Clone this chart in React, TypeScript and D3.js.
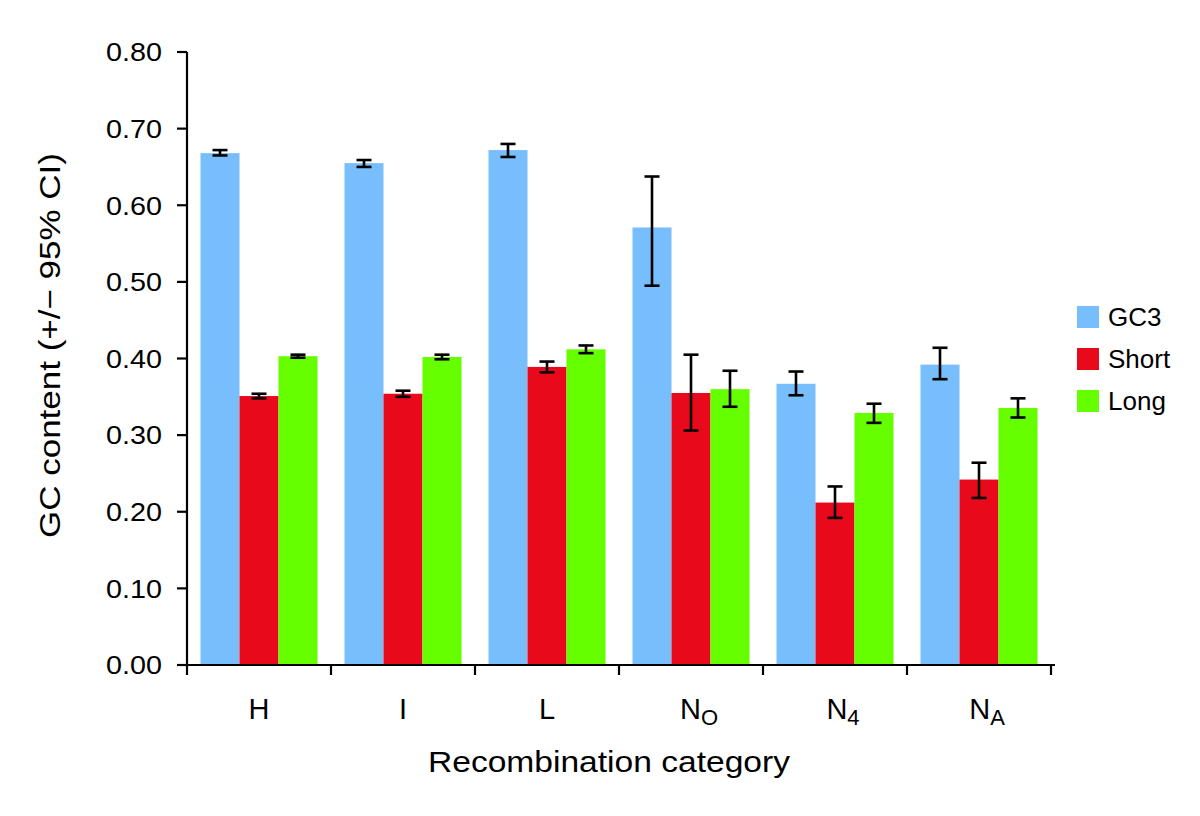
import React from "react";
import * as d3 from "d3";

const categories = ["H", "I", "L", "NO", "N4", "NA"];
const categoryMain = ["H", "I", "L", "N", "N", "N"];
const categorySub = ["", "", "", "O", "4", "A"];
const seriesNames = ["GC3", "Short", "Long"];
const seriesColors = ["#78BEFC", "#E8091B", "#66FF00"];
const gc3Values = [0.668, 0.655, 0.672, 0.571, 0.367, 0.392];
const gc3Upper = [0.672, 0.659, 0.680, 0.6375, 0.383, 0.414];
const gc3Lower = [0.665, 0.650, 0.663, 0.495, 0.352, 0.373];
const shortValues = [0.351, 0.354, 0.389, 0.355, 0.212, 0.242];
const shortUpper = [0.354, 0.358, 0.396, 0.405, 0.233, 0.264];
const shortLower = [0.348, 0.350, 0.382, 0.306, 0.192, 0.218];
const longValues = [0.403, 0.402, 0.412, 0.360, 0.329, 0.3355];
const longUpper = [0.405, 0.405, 0.417, 0.384, 0.341, 0.348];
const longLower = [0.401, 0.399, 0.407, 0.337, 0.316, 0.323];
const yTicks = [0, 0.1, 0.2, 0.3, 0.4, 0.5, 0.6, 0.7, 0.8];

const W = 1200;
const H = 816;
const x0 = 187;
const x1 = 1051;
const yTop = 52;
const yBot = 665;
const FONT = "'Liberation Sans', Arial, Helvetica, sans-serif";
const NARROW = "'Liberation Sans Narrow', 'Arial Narrow', 'Liberation Sans', Arial, sans-serif";

export default function App() {
  const y = d3.scaleLinear().domain([0, 0.8]).range([yBot, yTop]);
  const outer = d3.scaleBand<string>().domain(categories).range([x0, x1]);
  const groupW = 117;
  const sub = d3.scaleBand<string>().domain(seriesNames).range([0, groupW]);
  const values = [gc3Values, shortValues, longValues];
  const uppers = [gc3Upper, shortUpper, longUpper];
  const lowers = [gc3Lower, shortLower, longLower];
  const bw = sub.bandwidth();
  const capHalf = 7.5;

  return (
    <svg width={W} height={H} style={{ position: "absolute", left: 0, top: 0, background: "#fff" }} fontFamily={FONT}>
      <rect x={0} y={0} width={W} height={H} fill="#fff" />
      {categories.map((c, i) => {
        const gx = outer(c)! + (outer.bandwidth() - groupW) / 2;
        return (
          <g key={c}>
            {seriesNames.map((s, j) => (
              <rect
                key={s}
                x={gx + sub(s)!}
                y={y(values[j][i])}
                width={bw}
                height={yBot - y(values[j][i])}
                fill={seriesColors[j]}
              />
            ))}
            {seriesNames.map((s, j) => {
              const cx = gx + sub(s)! + bw / 2;
              const hi = y(uppers[j][i]);
              const lo = y(lowers[j][i]);
              return (
                <g key={s + "e"} stroke="#000" strokeWidth={2.6}>
                  <line x1={cx} x2={cx} y1={hi} y2={lo} />
                  <line x1={cx - capHalf} x2={cx + capHalf} y1={hi} y2={hi} />
                  <line x1={cx - capHalf} x2={cx + capHalf} y1={lo} y2={lo} />
                </g>
              );
            })}
          </g>
        );
      })}
      {/* y axis */}
      <line x1={x0} x2={x0} y1={yTop} y2={yBot + 1} stroke="#000" strokeWidth={2.2} />
      {yTicks.map((t) => (
        <g key={t}>
          <line x1={x0 - 10} x2={x0} y1={y(t)} y2={y(t)} stroke="#000" strokeWidth={2.2} />
          <text x={162} y={y(t)} dy="0.36em" textAnchor="end" fontSize={26} fill="#000" textLength={56} lengthAdjust="spacingAndGlyphs">
            {t.toFixed(2)}
          </text>
        </g>
      ))}
      {/* x axis */}
      <line x1={x0 - 1} x2={1055} y1={yBot} y2={yBot} stroke="#000" strokeWidth={2.2} />
      {[...categories, "end"].map((c, i) => {
        const tx = i < categories.length ? outer(c)! : x1;
        return <line key={c} x1={tx} x2={tx} y1={yBot} y2={yBot + 10} stroke="#000" strokeWidth={2.2} />;
      })}
      {categories.map((c, i) => (
        <text
          key={c}
          x={outer(c)! + outer.bandwidth() / 2 + (categorySub[i] ? 8 : 0)}
          y={719}
          textAnchor="middle"
          fontSize={29}
          fontFamily={NARROW}
          fill="#000"
        >
          {categoryMain[i]}
          {categorySub[i] && (
            <tspan fontSize={22} dy={6}>
              {categorySub[i]}
            </tspan>
          )}
        </text>
      ))}
      <text x={609} y={772} textAnchor="middle" fontSize={30} fill="#000" textLength={362} lengthAdjust="spacingAndGlyphs">
        Recombination category
      </text>
      <text
        transform={`translate(60,345.5) rotate(-90)`}
        textAnchor="middle"
        fontSize={30}
        fill="#000"
        textLength={385}
        lengthAdjust="spacingAndGlyphs"
      >
        GC content (+/− 95% CI)
      </text>
      {/* legend */}
      {seriesNames.map((s, j) => (
        <g key={s} transform={`translate(1077,${306 + j * 42})`}>
          <rect x={0} y={0} width={22} height={22} fill={seriesColors[j]} />
          <text x={31} y={11} dy="0.36em" fontSize={26} fill="#000">
            {s}
          </text>
        </g>
      ))}
    </svg>
  );
}
